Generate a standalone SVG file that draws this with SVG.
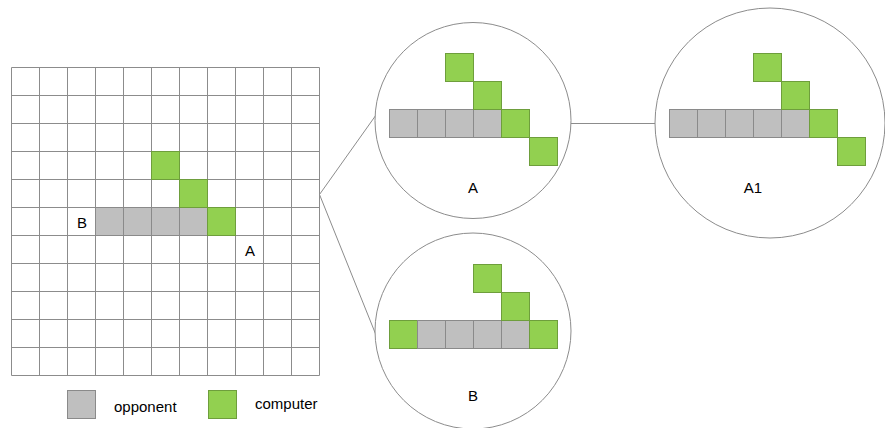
<svg xmlns="http://www.w3.org/2000/svg" width="885" height="428" viewBox="0 0 885 428">
<style>
.g{fill:#92D050;stroke:#6E9E3C;stroke-width:1}
.o{fill:#BFBFBF;stroke:#8A8A8A;stroke-width:1}
.grid line{stroke:#8C8C8C;stroke-width:1}
.circ{fill:#fff;stroke:#8C8C8C;stroke-width:1}
.conn line{stroke:#8C8C8C;stroke-width:1}
text{font-family:"Liberation Sans",Arial,sans-serif;font-size:15px;fill:#000}
.c{text-anchor:middle}
</style>
<rect width="885" height="428" fill="#fff"/>
<g id="board">
<g class="grid">
<line x1="11.5" y1="67.5" x2="11.5" y2="375.5"/>
<line x1="39.5" y1="67.5" x2="39.5" y2="375.5"/>
<line x1="67.5" y1="67.5" x2="67.5" y2="375.5"/>
<line x1="95.5" y1="67.5" x2="95.5" y2="375.5"/>
<line x1="123.5" y1="67.5" x2="123.5" y2="375.5"/>
<line x1="151.5" y1="67.5" x2="151.5" y2="375.5"/>
<line x1="179.5" y1="67.5" x2="179.5" y2="375.5"/>
<line x1="207.5" y1="67.5" x2="207.5" y2="375.5"/>
<line x1="235.5" y1="67.5" x2="235.5" y2="375.5"/>
<line x1="263.5" y1="67.5" x2="263.5" y2="375.5"/>
<line x1="291.5" y1="67.5" x2="291.5" y2="375.5"/>
<line x1="319.5" y1="67.5" x2="319.5" y2="375.5"/>
<line x1="11.5" y1="67.5" x2="319.5" y2="67.5"/>
<line x1="11.5" y1="95.5" x2="319.5" y2="95.5"/>
<line x1="11.5" y1="123.5" x2="319.5" y2="123.5"/>
<line x1="11.5" y1="151.5" x2="319.5" y2="151.5"/>
<line x1="11.5" y1="179.5" x2="319.5" y2="179.5"/>
<line x1="11.5" y1="207.5" x2="319.5" y2="207.5"/>
<line x1="11.5" y1="235.5" x2="319.5" y2="235.5"/>
<line x1="11.5" y1="263.5" x2="319.5" y2="263.5"/>
<line x1="11.5" y1="291.5" x2="319.5" y2="291.5"/>
<line x1="11.5" y1="319.5" x2="319.5" y2="319.5"/>
<line x1="11.5" y1="347.5" x2="319.5" y2="347.5"/>
<line x1="11.5" y1="375.5" x2="319.5" y2="375.5"/>
</g>
<rect class="o" x="95.5" y="207.5" width="28" height="28"/>
<rect class="o" x="123.5" y="207.5" width="28" height="28"/>
<rect class="o" x="151.5" y="207.5" width="28" height="28"/>
<rect class="o" x="179.5" y="207.5" width="28" height="28"/>
<rect class="g" x="151.5" y="151.5" width="28" height="28"/>
<rect class="g" x="179.5" y="179.5" width="28" height="28"/>
<rect class="g" x="207.5" y="207.5" width="28" height="28"/>
<text x="82" y="228" class="c">B</text>
<text x="250" y="256" class="c">A</text>
</g>
<g id="connectors" class="conn">
<line x1="319.5" y1="194.5" x2="376" y2="115"/>
<line x1="319.5" y1="194.5" x2="376" y2="335"/>
<line x1="571" y1="123.5" x2="655" y2="123.5"/>
</g>
<g id="circleA">
<circle class="circ" cx="473" cy="120.5" r="98"/>
<rect class="o" x="389.5" y="109.5" width="28" height="28"/>
<rect class="o" x="417.5" y="109.5" width="28" height="28"/>
<rect class="o" x="445.5" y="109.5" width="28" height="28"/>
<rect class="o" x="473.5" y="109.5" width="28" height="28"/>
<rect class="g" x="445.5" y="53.5" width="28" height="28"/>
<rect class="g" x="473.5" y="81.5" width="28" height="28"/>
<rect class="g" x="501.5" y="109.5" width="28" height="28"/>
<rect class="g" x="529.5" y="137.5" width="28" height="28"/>
<text x="473" y="193" class="c">A</text>
</g>
<g id="circleA1">
<circle class="circ" cx="770" cy="123" r="115"/>
<rect class="o" x="669.5" y="109.5" width="28" height="28"/>
<rect class="o" x="697.5" y="109.5" width="28" height="28"/>
<rect class="o" x="725.5" y="109.5" width="28" height="28"/>
<rect class="o" x="753.5" y="109.5" width="28" height="28"/>
<rect class="o" x="781.5" y="109.5" width="28" height="28"/>
<rect class="g" x="753.5" y="53.5" width="28" height="28"/>
<rect class="g" x="781.5" y="81.5" width="28" height="28"/>
<rect class="g" x="809.5" y="109.5" width="28" height="28"/>
<rect class="g" x="837.5" y="137.5" width="28" height="28"/>
<text x="753" y="193" class="c">A1</text>
</g>
<g id="circleB">
<circle class="circ" cx="473" cy="331" r="98"/>
<rect class="g" x="389.5" y="320.5" width="28" height="28"/>
<rect class="o" x="417.5" y="320.5" width="28" height="28"/>
<rect class="o" x="445.5" y="320.5" width="28" height="28"/>
<rect class="o" x="473.5" y="320.5" width="28" height="28"/>
<rect class="o" x="501.5" y="320.5" width="28" height="28"/>
<rect class="g" x="529.5" y="320.5" width="28" height="28"/>
<rect class="g" x="473.5" y="264.5" width="28" height="28"/>
<rect class="g" x="501.5" y="292.5" width="28" height="28"/>
<text x="473" y="401" class="c">B</text>
</g>
<g id="legend">
<rect class="o" x="67.5" y="390.5" width="28" height="28"/>
<text x="114" y="412">opponent</text>
<rect class="g" x="208.5" y="390.5" width="28" height="28"/>
<text x="255" y="409">computer</text>
</g>
</svg>
